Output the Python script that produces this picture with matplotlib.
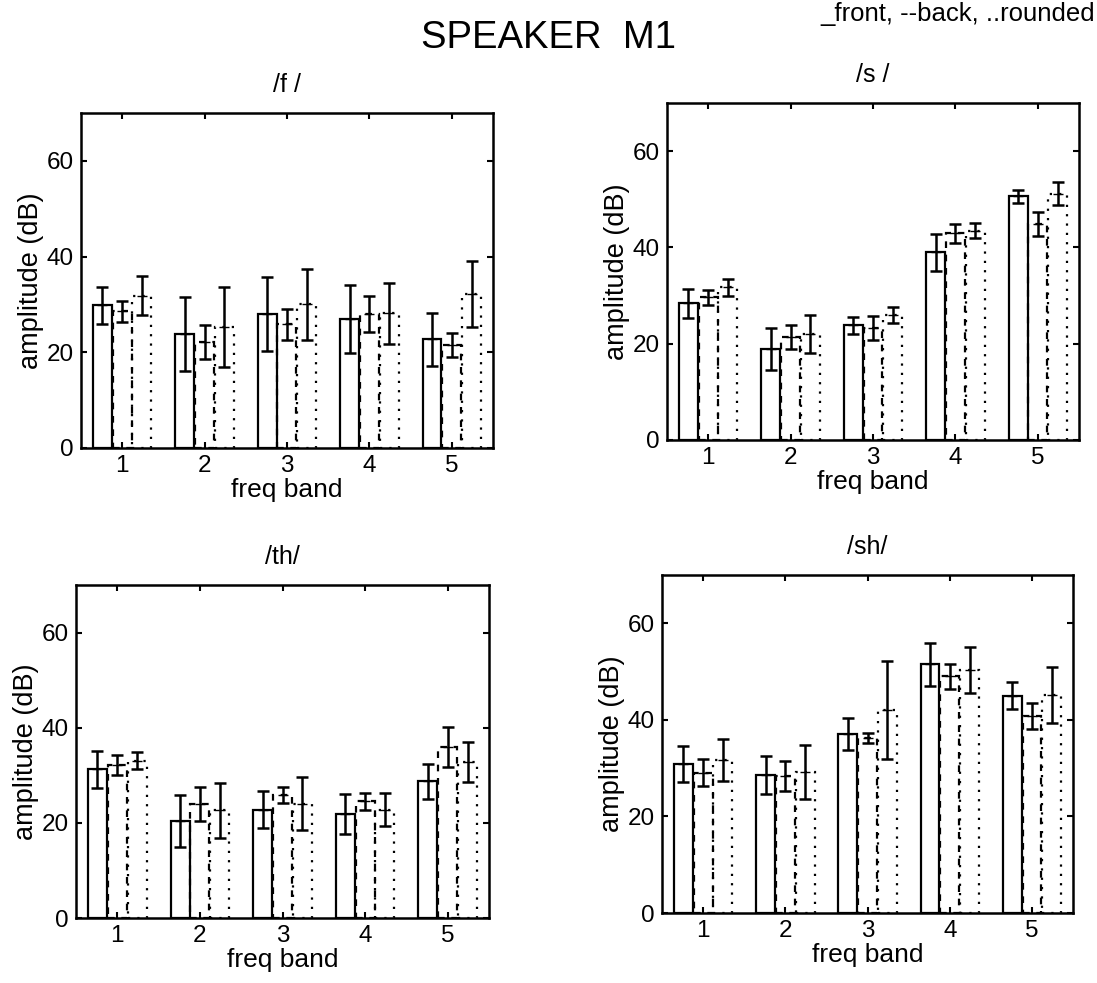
import matplotlib
matplotlib.use('Agg')
import matplotlib.pyplot as plt
import numpy as np

plt.rcParams['font.family'] = ['Liberation Sans', 'DejaVu Sans']

bands = [1, 2, 3, 4, 5]
series = ['front', 'back', 'rounded']

# mean amplitude (dB) and error per band, for front / back / rounded
f_mean = [[29.8, 23.8, 28.0, 27.0, 22.7],
          [28.6, 22.1, 25.8, 28.0, 21.5],
          [31.8, 25.3, 30.0, 28.1, 32.1]]
f_err = [[3.8, 7.8, 7.7, 7.1, 5.6],
         [2.2, 3.6, 3.3, 3.7, 2.5],
         [4.1, 8.3, 7.4, 6.3, 6.9]]

s_mean = [[28.4, 18.9, 23.8, 39.0, 50.6],
          [29.6, 21.4, 23.2, 42.9, 44.9],
          [31.7, 22.0, 26.0, 43.5, 51.2]]
s_err = [[3.0, 4.4, 1.8, 3.8, 1.4],
         [1.5, 2.5, 2.5, 1.9, 2.5],
         [1.7, 3.9, 1.7, 1.5, 2.4]]

th_mean = [[31.3, 20.4, 22.8, 21.9, 28.7],
           [32.1, 24.0, 25.8, 24.5, 35.9],
           [33.1, 22.6, 24.0, 22.8, 32.8]]
th_err = [[3.9, 5.4, 3.8, 4.2, 3.6],
          [2.1, 3.6, 1.7, 1.8, 4.2],
          [1.8, 5.7, 5.6, 3.4, 4.3]]

sh_mean = [[30.8, 28.6, 37.1, 51.5, 45.0],
           [29.1, 28.3, 36.3, 49.0, 40.8],
           [31.7, 29.2, 42.1, 50.3, 45.2]]
sh_err = [[3.7, 4.0, 3.3, 4.5, 2.8],
          [2.8, 3.1, 1.0, 2.5, 2.6],
          [4.4, 5.5, 10.2, 4.8, 5.8]]

panels = [
    ('/f /', f_mean, f_err, [0.0738, 0.5443, 0.3756, 0.3408]),
    ('/s /', s_mean, s_err, [0.6080, 0.5524, 0.3756, 0.3428]),
    ('/th/', th_mean, th_err, [0.0693, 0.0661, 0.3765, 0.3388]),
    ('/sh/', sh_mean, sh_err, [0.6035, 0.0712, 0.3747, 0.3438]),
]

# solid = front, dashed = back, dotted = rounded
styles = ['-', (0, (3, 3)), (0, (1, 3.2))]
offsets = [-0.24, 0.0, 0.24]
width = 0.23

fig = plt.figure(figsize=(10.97, 9.83), dpi=100)

for title, means, errs, pos in panels:
    ax = fig.add_axes(pos)
    x = np.array(bands, dtype=float)
    for k in range(3):
        ax.bar(x + offsets[k], means[k], width, fill=False, edgecolor='black',
               linewidth=1.6, linestyle=styles[k])
        ax.errorbar(x + offsets[k], means[k], yerr=errs[k], fmt='_', color='black',
                    markersize=7, elinewidth=1.8, capsize=4, capthick=1.8)
    ax.set_xlim(0.5, 5.5)
    ax.set_ylim(0, 70)
    ax.set_xticks(bands)
    ax.set_yticks([0, 20, 40, 60])
    ax.tick_params(direction='in', top=True, right=True, labelsize=17.5,
                   length=4, width=1.5, pad=5)
    for sp in ax.spines.values():
        sp.set_linewidth(1.8)
    ax.set_title(title, fontsize=18, pad=15)
    ax.set_xlabel('freq band', fontsize=19, labelpad=1)
    ax.set_ylabel('amplitude (dB)', fontsize=19.5, labelpad=2)

fig.text(0.500, 0.961, 'SPEAKER  M1', ha='center', va='center', fontsize=27.5)
fig.text(0.998, 0.986, '_front, --back, ..rounded', ha='right', va='center',
         fontsize=18.5)

plt.savefig('out.png', dpi=100)
